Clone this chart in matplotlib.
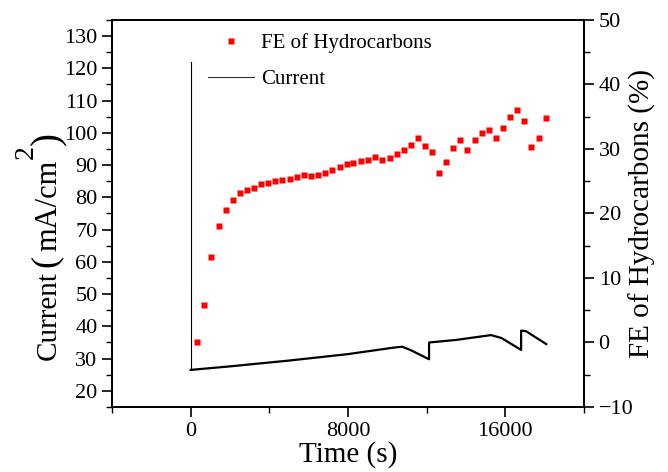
import matplotlib.pyplot as plt
from matplotlib.lines import Line2D
from matplotlib.ticker import MultipleLocator

plt.rcParams['font.family'] = ['Liberation Serif', 'DejaVu Serif']

# current trace (key points)
spike_t = [0, 0]
spike_i = [122.0, 26.5]
current_t = [0, 2000, 5000, 8000, 10300, 10760, 11200, 12120, 12121, 13500, 15270, 15800, 16800, 16801, 17050, 18080]
current_i = [26.5, 27.6, 29.4, 31.4, 33.4, 33.7, 32.6, 29.8, 35.0, 35.8, 37.3, 36.4, 32.7, 38.7, 38.5, 34.5]

# FE of hydrocarbons (%)
fe_t = [322, 680, 1057, 1430, 1787, 2145, 2502, 2876, 3233, 3591, 3949, 4306, 4664, 5038,
        5395, 5753, 6110, 6468, 6825, 7200, 7574, 7932, 8272, 8647, 9004, 9362, 9736, 10110,
        10468, 10826, 11183, 11557, 11932, 12290, 12630, 12987, 13345, 13702, 14060, 14434,
        14809, 15150, 15508, 15881, 16255, 16612, 16970, 17327, 17685, 18078]
fe_val = [0.0, 5.8, 13.2, 18.0, 20.6, 22.1, 23.2, 23.6, 24.0, 24.5, 24.7, 25.0, 25.2, 25.35,
          25.7, 25.9, 25.8, 26.0, 26.2, 26.8, 27.2, 27.6, 27.9, 28.1, 28.35, 28.7, 28.3, 28.6,
          29.2, 29.8, 30.6, 31.7, 30.5, 29.6, 26.2, 28.0, 30.1, 31.4, 29.9, 31.4,
          32.4, 33.0, 31.65, 33.2, 34.9, 36.0, 34.3, 30.3, 31.7, 34.85]

W, H = 668, 472
fig = plt.figure(figsize=(W / 100, H / 100), dpi=100)
ax = fig.add_axes([0.1677, 0.1377, 0.7066, 0.82])
ax2 = ax.twinx()

ax.plot(spike_t, spike_i, color='black', lw=0.8)
ax.plot(current_t, current_i, color='black', lw=1.6)
pts, = ax2.plot(fe_t, fe_val, 's', color='red', ms=3.8, mec='none')

ax.set_xlim(-4000, 20000)
ax.set_ylim(15, 135)
ax2.set_ylim(-10, 50)

ax.xaxis.set_major_locator(MultipleLocator(8000))
ax.xaxis.set_minor_locator(MultipleLocator(4000))
ax.yaxis.set_major_locator(MultipleLocator(10))
ax.yaxis.set_minor_locator(MultipleLocator(5))
ax2.yaxis.set_major_locator(MultipleLocator(10))
ax2.yaxis.set_minor_locator(MultipleLocator(5))

for a in (ax, ax2):
    a.tick_params(which='major', direction='out', length=7, width=1.2, labelsize=16)
    a.tick_params(which='minor', direction='out', length=4, width=1.0)
    for s in a.spines.values():
        s.set_linewidth(1.4)
ax.tick_params(axis='x', which='both', top=False)

ax.set_xlabel('Time (s)', fontsize=21, labelpad=0)
ax2.set_ylabel('FE of Hydrocarbons (%)', fontsize=21, labelpad=-3)

# left label built in pieces (big brackets, full size raised "2"),
# each piece starts where the previous one ends
renderer = fig.canvas.get_renderer()
pieces = [('Current', 21, 56, 4), ('(', 26, 55, 4), ('mA/cm', 22, 56, 1),
          ('2', 20, 33, 0), (')', 28, 58, 0)]
y = 360
for s, size, xb, gap in pieces:
    t = fig.text(xb / W, 1 - y / H, s, fontsize=size, rotation=90,
                 rotation_mode='anchor', ha='left', va='baseline')
    y -= t.get_window_extent(renderer).height + gap

cur_handle = Line2D([], [], color='#333333', lw=0.8)
fig.legend([pts, cur_handle], ['FE of Hydrocarbons', 'Current'], loc='upper left',
           bbox_to_anchor=(208 / W, 1 - 33 / H), frameon=False, fontsize=15,
           borderpad=0, borderaxespad=0, handlelength=2.2, handletextpad=0.35,
           labelspacing=0.8)

fig.savefig('out.png', dpi=100)
